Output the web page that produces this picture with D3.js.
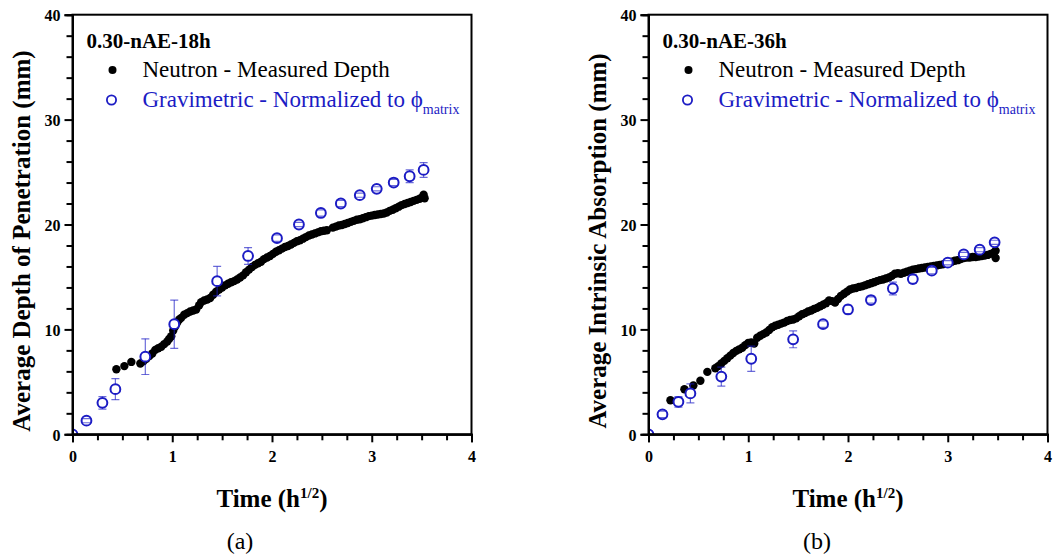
<!DOCTYPE html>
<html>
<head>
<meta charset="utf-8">
<script src="https://cdn.jsdelivr.net/npm/d3@7"></script>
<style>
  body { margin: 0; background: #fff; }
  text { font-family: "Liberation Serif", "Times New Roman", serif; }
</style>
</head>
<body>
<svg id="fig" width="1060" height="560"></svg>
<script>
// Panel (a) : 0.30-nAE-18h
const neutronA = [
    [0.44, 6.2], [0.52, 6.5], [0.59, 6.9],
    [0.68, 6.75], [0.71, 6.95], [0.74, 7.2], [0.77, 7.45], [0.80, 7.7], [0.83, 8.05], [0.86, 8.2],
    [0.89, 8.35], [0.92, 8.6], [0.95, 8.85], [0.97, 9.1], [0.99, 9.35], [1.01, 9.9], [1.03, 10.3],
    [1.05, 10.65], [1.07, 10.95], [1.09, 11.1], [1.12, 11.4], [1.15, 11.55], [1.18, 11.7], [1.21, 11.8],
    [1.24, 11.9], [1.27, 12.3], [1.29, 12.6], [1.32, 12.75], [1.35, 12.85], [1.38, 13.0], [1.41, 13.3],
    [1.44, 13.6], [1.47, 13.8], [1.50, 14.0], [1.53, 14.2], [1.56, 14.35], [1.59, 14.5], [1.62, 14.6],
    [1.65, 14.75], [1.68, 14.95], [1.71, 15.15], [1.74, 15.45], [1.77, 15.7], [1.80, 15.95], [1.83, 16.15],
    [1.86, 16.3], [1.89, 16.45], [1.92, 16.7], [1.95, 16.85], [1.98, 17.0], [2.01, 17.2], [2.04, 17.4],
    [2.07, 17.55], [2.10, 17.7], [2.13, 17.85], [2.16, 17.95], [2.19, 18.1], [2.22, 18.25], [2.25, 18.4],
    [2.28, 18.5], [2.31, 18.65], [2.34, 18.8], [2.37, 18.95], [2.40, 19.05], [2.43, 19.15], [2.46, 19.25],
    [2.49, 19.35], [2.52, 19.4], [2.55, 19.45],
    [2.61, 19.7], [2.64, 19.8], [2.67, 19.9], [2.70, 19.95], [2.73, 20.05], [2.76, 20.15], [2.79, 20.25],
    [2.82, 20.35], [2.85, 20.45], [2.88, 20.5], [2.91, 20.6], [2.94, 20.7], [2.97, 20.8], [3.00, 20.85],
    [3.03, 20.9], [3.06, 20.95], [3.09, 21.0], [3.12, 21.05], [3.15, 21.15], [3.18, 21.3], [3.21, 21.4],
    [3.24, 21.55], [3.27, 21.7], [3.30, 21.85], [3.33, 21.95], [3.36, 22.05], [3.39, 22.15], [3.42, 22.25],
    [3.45, 22.35], [3.48, 22.45], [3.51, 22.6], [3.52, 22.85], [3.53, 22.5]
];
const gravTimeA = [0, 0.14, 0.30, 0.43, 0.73, 1.02, 1.45, 1.76, 2.05, 2.27, 2.49, 2.69, 2.88, 3.05, 3.22, 3.38, 3.52];
const gravDepthA = [0, 1.3, 3.0, 4.3, 7.4, 10.5, 14.6, 17.0, 18.7, 20.0, 21.1, 22.0, 22.8, 23.4, 24.0, 24.6, 25.2];
const gravErrA = [0, 0.2, 0.6, 1.0, 1.7, 2.3, 1.4, 0.8, 0.3, 0.2, 0.3, 0.3, 0.2, 0.2, 0.3, 0.6, 0.7];

// Panel (b) : 0.30-nAE-36h
const neutronB = [
    [0.22, 3.25], [0.36, 4.3], [0.45, 4.65], [0.52, 5.1], [0.59, 5.95],
    [0.67, 6.3], [0.70, 6.5], [0.73, 6.75], [0.76, 7.0], [0.79, 7.25], [0.82, 7.5], [0.85, 7.75],
    [0.88, 7.95], [0.91, 8.1], [0.94, 8.25], [0.97, 8.5], [1.00, 8.7], [1.03, 8.75], [1.06, 8.65],
    [1.09, 9.2], [1.12, 9.4], [1.15, 9.55], [1.18, 9.7], [1.21, 9.95], [1.24, 10.2], [1.27, 10.35],
    [1.30, 10.45], [1.33, 10.55], [1.36, 10.65], [1.39, 10.8], [1.42, 10.9], [1.45, 10.95], [1.48, 11.05],
    [1.51, 11.25], [1.54, 11.45], [1.57, 11.55], [1.60, 11.7], [1.63, 11.8], [1.66, 11.95], [1.69, 12.05],
    [1.72, 12.2], [1.75, 12.35], [1.78, 12.5], [1.81, 12.75], [1.84, 12.7], [1.87, 12.55], [1.90, 12.9],
    [1.93, 13.2], [1.96, 13.4], [1.99, 13.6], [2.02, 13.8], [2.05, 13.9], [2.08, 13.95], [2.11, 14.05],
    [2.14, 14.1], [2.17, 14.2], [2.20, 14.3], [2.23, 14.4], [2.26, 14.5], [2.29, 14.6], [2.32, 14.7],
    [2.35, 14.75], [2.38, 14.85], [2.41, 14.95], [2.44, 15.1], [2.47, 15.3], [2.50, 15.35], [2.53, 15.3],
    [2.56, 15.4], [2.59, 15.5], [2.62, 15.6], [2.65, 15.7], [2.68, 15.75], [2.71, 15.8], [2.74, 15.85],
    [2.77, 15.9], [2.80, 15.95], [2.83, 16.0], [2.86, 16.05], [2.89, 16.1], [2.92, 16.15], [2.95, 16.2],
    [2.98, 16.3], [3.01, 16.35], [3.04, 16.45], [3.07, 16.55], [3.10, 16.6], [3.13, 16.7], [3.16, 16.8],
    [3.19, 16.85], [3.22, 16.85], [3.25, 16.9], [3.28, 16.9], [3.31, 16.95], [3.34, 17.0], [3.37, 17.05],
    [3.40, 17.1], [3.43, 17.2], [3.46, 17.3], [3.48, 16.8], [3.48, 17.5]
];
const gravTimeB = [0, 0.14, 0.30, 0.42, 0.73, 1.03, 1.45, 1.75, 2.00, 2.23, 2.45, 2.65, 2.84, 3.00, 3.16, 3.32, 3.47];
const gravDepthB = [0, 1.9, 3.1, 3.9, 5.5, 7.2, 9.05, 10.5, 11.9, 12.8, 13.9, 14.8, 15.6, 16.36, 17.15, 17.6, 18.3];
const gravErrB = [0, 0.3, 0.5, 0.9, 0.9, 1.2, 0.8, 0.3, 0.4, 0.3, 0.6, 0.4, 0.3, 0.2, 0.2, 0.2, 0.2];

const xMajor = [0, 1, 2, 3, 4];
const yMajor = [0, 10, 20, 30, 40];

const BLUE = "#1c1cc4";
const FONT = '"Liberation Serif", "Times New Roman", serif';

const svg = d3.select("#fig");
svg.append("rect").attr("width", 1060).attr("height", 560).attr("fill", "#fff");

function drawPanel(cfg) {
    const x = d3.scaleLinear().domain([0, 4]).range([cfg.left, cfg.left + 399]);
    const y = d3.scaleLinear().domain([0, 40]).range([434.3, 14.7]);
    const g = svg.append("g");

    const clipId = "clip-" + cfg.key;
    svg.append("clipPath").attr("id", clipId)
        .append("rect")
        .attr("x", x(0)).attr("y", y(40))
        .attr("width", x(4) - x(0)).attr("height", y(0) - y(40));

    const plot = g.append("g").attr("clip-path", `url(#${clipId})`);

    // neutron - filled black dots
    plot.selectAll(".neu")
        .data(cfg.neutron)
        .join("circle")
        .attr("cx", d => x(d[0]))
        .attr("cy", d => y(d[1]))
        .attr("r", 4.2)
        .attr("fill", "#000");

    const grav = cfg.gTime.map((t, i) => ({ t, v: cfg.gDepth[i], e: cfg.gErr[i] }));

    // error bars (stems)
    plot.selectAll(".err")
        .data(grav.filter(d => d.e > 0))
        .join("line")
        .attr("x1", d => x(d.t)).attr("x2", d => x(d.t))
        .attr("y1", d => y(d.v - d.e)).attr("y2", d => y(d.v + d.e))
        .attr("stroke", BLUE).attr("stroke-opacity", 0.65).attr("stroke-width", 1.2);

    plot.selectAll(".grav")
        .data(grav)
        .join("circle")
        .attr("cx", d => x(d.t))
        .attr("cy", d => y(d.v))
        .attr("r", 4.9)
        .attr("fill", "#fff")
        .attr("stroke", BLUE)
        .attr("stroke-width", 2);

    // caps on top
    const caps = grav.filter(d => d.e > 0).flatMap(d => [[d.t, d.v - d.e], [d.t, d.v + d.e]]);
    plot.selectAll(".cap")
        .data(caps)
        .join("line")
        .attr("x1", d => x(d[0]) - 4).attr("x2", d => x(d[0]) + 4)
        .attr("y1", d => y(d[1])).attr("y2", d => y(d[1]))
        .attr("stroke", BLUE).attr("stroke-opacity", 0.65).attr("stroke-width", 1.2);

    // frame
    g.append("rect")
        .attr("x", x(0)).attr("y", y(40))
        .attr("width", x(4) - x(0)).attr("height", y(0) - y(40))
        .attr("fill", "none").attr("stroke", "#000").attr("stroke-width", 2);

    // minor ticks
    const xMinor = d3.range(0, 4.001, 0.25).filter(v => !xMajor.includes(v));
    const yMinor = d3.range(0, 40.001, 2).filter(v => !yMajor.includes(v));

    const xAxisMinor = g.append("g").attr("transform", `translate(0,${y(0)})`)
        .call(d3.axisBottom(x).tickValues(xMinor).tickSize(6).tickFormat(""));
    const yAxisMinor = g.append("g").attr("transform", `translate(${x(0)},0)`)
        .call(d3.axisLeft(y).tickValues(yMinor).tickSize(6).tickFormat(""));

    const xAxis = g.append("g").attr("transform", `translate(0,${y(0)})`)
        .call(d3.axisBottom(x).tickValues(xMajor).tickSize(8).tickPadding(8).tickFormat(d3.format("d")));
    const yAxis = g.append("g").attr("transform", `translate(${x(0)},0)`)
        .call(d3.axisLeft(y).tickValues(yMajor).tickSize(8).tickPadding(4).tickFormat(d3.format("d")));

    [xAxisMinor, yAxisMinor, xAxis, yAxis].forEach(a => {
        a.select(".domain").attr("stroke", "#000").attr("stroke-width", 2);
        a.selectAll(".tick line").attr("stroke", "#000").attr("stroke-width", 2);
        a.selectAll(".tick text")
            .attr("fill", "#000")
            .style("font-family", FONT)
            .style("font-size", "16px")
            .style("font-weight", "bold");
    });
    yAxis.selectAll(".tick text").attr("dy", "0.36em");

    // axis titles
    const xt = g.append("text")
        .attr("x", (x(0) + x(4)) / 2).attr("y", 507)
        .attr("text-anchor", "middle")
        .style("font-size", "25px").style("font-weight", "bold");
    xt.append("tspan").text("Time (h");
    xt.append("tspan").attr("dy", -9).style("font-size", "15px").text("1/2");
    xt.append("tspan").attr("dy", 9).text(")");

    g.append("text")
        .attr("transform", `translate(${cfg.left - 43},241) rotate(-90)`)
        .attr("text-anchor", "middle")
        .style("font-size", "25px").style("font-weight", "bold")
        .text(cfg.yTitle);

    g.append("text")
        .attr("x", cfg.capX).attr("y", 549)
        .attr("text-anchor", "middle")
        .style("font-size", "24px")
        .text(cfg.caption);

    // legend
    const lx = x(0);
    g.append("text")
        .attr("x", lx + 14).attr("y", 48)
        .style("font-size", "21px").style("font-weight", "bold")
        .text(cfg.sample);
    g.append("circle").attr("cx", lx + 40).attr("cy", 70).attr("r", 4).attr("fill", "#000");
    g.append("text")
        .attr("x", lx + 70).attr("y", 77)
        .style("font-size", "23px")
        .text("Neutron - Measured Depth");
    g.append("circle").attr("cx", lx + 39).attr("cy", 100).attr("r", 4.6)
        .attr("fill", "#fff").attr("stroke", BLUE).attr("stroke-width", 1.8);
    const gt = g.append("text")
        .attr("x", lx + 70).attr("y", 107)
        .attr("fill", BLUE)
        .style("font-size", "23px");
    gt.append("tspan").text("Gravimetric - Normalized to \u03D5");
    gt.append("tspan").attr("dy", 7).style("font-size", "14px").text("matrix");
}

drawPanel({
    key: "a", left: 72.5, sample: "0.30-nAE-18h", caption: "(a)", capX: 240,
    yTitle: "Average Depth of Penetration (mm)",
    neutron: neutronA, gTime: gravTimeA, gDepth: gravDepthA, gErr: gravErrA
});
drawPanel({
    key: "b", left: 648.5, sample: "0.30-nAE-36h", caption: "(b)", capX: 817,
    yTitle: "Average Intrinsic Absorption (mm)",
    neutron: neutronB, gTime: gravTimeB, gDepth: gravDepthB, gErr: gravErrB
});
</script>
</body>
</html>
